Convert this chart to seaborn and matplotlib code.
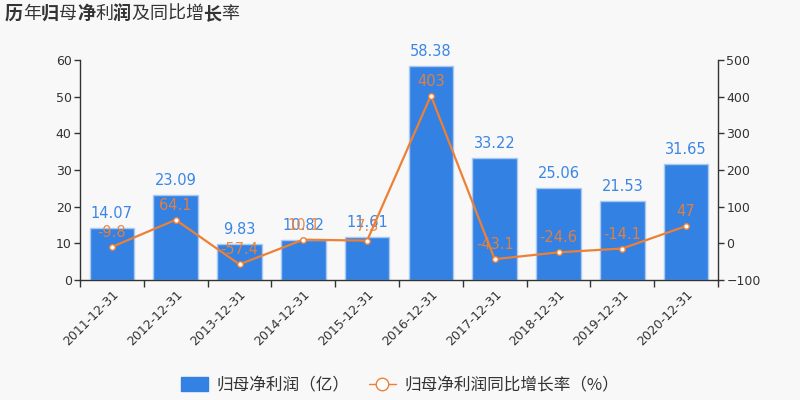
import numpy as np
import pandas as pd
import matplotlib
matplotlib.use('Agg')
import matplotlib.pyplot as plt
from matplotlib.lines import Line2D
from matplotlib.patches import Patch
import seaborn as sns

# data
dates = ['2011-12-31', '2012-12-31', '2013-12-31', '2014-12-31', '2015-12-31',
         '2016-12-31', '2017-12-31', '2018-12-31', '2019-12-31', '2020-12-31']
profit = [14.07, 23.09, 9.83, 10.82, 11.61, 58.38, 33.22, 25.06, 21.53, 31.65]
growth = [-9.8, 64.1, -57.4, 10.1, 7.3, 403, -43.1, -24.6, -14.1, 47]
growth_labels = ['-9.8', '64.1', '-57.4', '10.1', '7.3', '403', '-43.1', '-24.6', '-14.1', '47']

BLUE = '#3381e3'
ORANGE = '#ee8035'
BG = '#f8f8f8'
AXC = '#333333'

sns.set_theme(style='white')
plt.rcParams['font.family'] = ['DejaVu Sans', 'Noto Sans CJK SC']
CJK = ['Noto Sans CJK SC', 'DejaVu Sans']

df = pd.DataFrame({'date': dates, 'profit': profit, 'growth': growth})

fig = plt.figure(figsize=(8, 4), dpi=100, facecolor=BG)
ax = fig.add_axes([0.1, 0.3, 0.7975, 0.55], facecolor=BG)

sns.barplot(data=df, x='date', y='profit', color=BLUE, width=0.7, saturation=1,
            edgecolor='#a9c9f2', linewidth=1, ax=ax)
ax.set_xlim(-0.5, len(dates) - 0.5)
ax.set_ylim(0, 60)
ax.set_yticks(range(0, 61, 10))
ax.set_xlabel('')
ax.set_ylabel('')

for i, v in enumerate(profit):
    ax.annotate(f'{v:.2f}', (i, v), xytext=(0, 5), textcoords='offset points',
                ha='center', va='bottom', color='#3a86e6', fontsize=10.5)

ax2 = ax.twinx()
sns.lineplot(x=np.arange(len(dates)), y=growth, color=ORANGE, linewidth=1.6,
             marker='o', markersize=4, markerfacecolor='white',
             markeredgecolor=ORANGE, markeredgewidth=1, ax=ax2)
ax2.set_ylim(-100, 500)
ax2.set_yticks(range(-100, 501, 100))
for i, (v, lab) in enumerate(zip(growth, growth_labels)):
    ax2.annotate(lab, (i, v), xytext=(0, 5), textcoords='offset points',
                 ha='center', va='bottom', color=ORANGE, fontsize=10.5, alpha=0.9)

# axis styling
for a in (ax, ax2):
    a.spines['top'].set_visible(False)
    for s in ['left', 'right', 'bottom']:
        a.spines[s].set_color(AXC)
        a.spines[s].set_linewidth(1)
    a.tick_params(axis='y', colors=AXC, labelsize=9, length=4, width=1, direction='out')
    a.grid(False)
ax.spines['right'].set_visible(False)
ax2.spines['left'].set_visible(False)
ax2.spines['bottom'].set_visible(False)
ax.tick_params(axis='y', left=True, pad=2)
ax2.tick_params(axis='y', right=True, pad=2)

ax.set_xticks(np.arange(len(dates)))
ax.set_xticklabels(dates, rotation=45, ha='right', rotation_mode='anchor',
                   fontsize=9, color=AXC)
ax.tick_params(axis='x', length=0, pad=6, bottom=True)
ax.set_xticks(np.arange(-0.5, len(dates), 1), minor=True)
ax.tick_params(axis='x', which='minor', length=5, width=1, color=AXC, bottom=True)

# title, a few characters heavier as in the original rendering
title = '历年归母净利润及同比增长率'
heavy = set('历归净润长')
renderer = fig.canvas.get_renderer()
x0 = 5
for ch in title:
    t = fig.text(x0 / 800, 1 - 19 / 400, ch, family=CJK, fontsize=13, color='#333333',
                 ha='left', va='baseline', weight='bold' if ch in heavy else 'normal')
    x0 += t.get_window_extent(renderer).width

# legend
handles = [Patch(facecolor=BLUE, edgecolor=BLUE),
           Line2D([0], [0], color=ORANGE, linewidth=1, marker='o', markersize=9,
                  markerfacecolor='white', markeredgecolor=ORANGE)]
leg = fig.legend(handles, ['归母净利润（亿）', '归母净利润同比增长率（%）'],
                 loc='center', bbox_to_anchor=(0.5, 0.036), ncol=2, frameon=False,
                 prop={'family': CJK, 'size': 12}, handlelength=1.6, handleheight=0.9,
                 columnspacing=1.2, handletextpad=0.5)
for t in leg.get_texts():
    t.set_color('#333333')

fig.savefig('out.png', dpi=100, facecolor=BG)
